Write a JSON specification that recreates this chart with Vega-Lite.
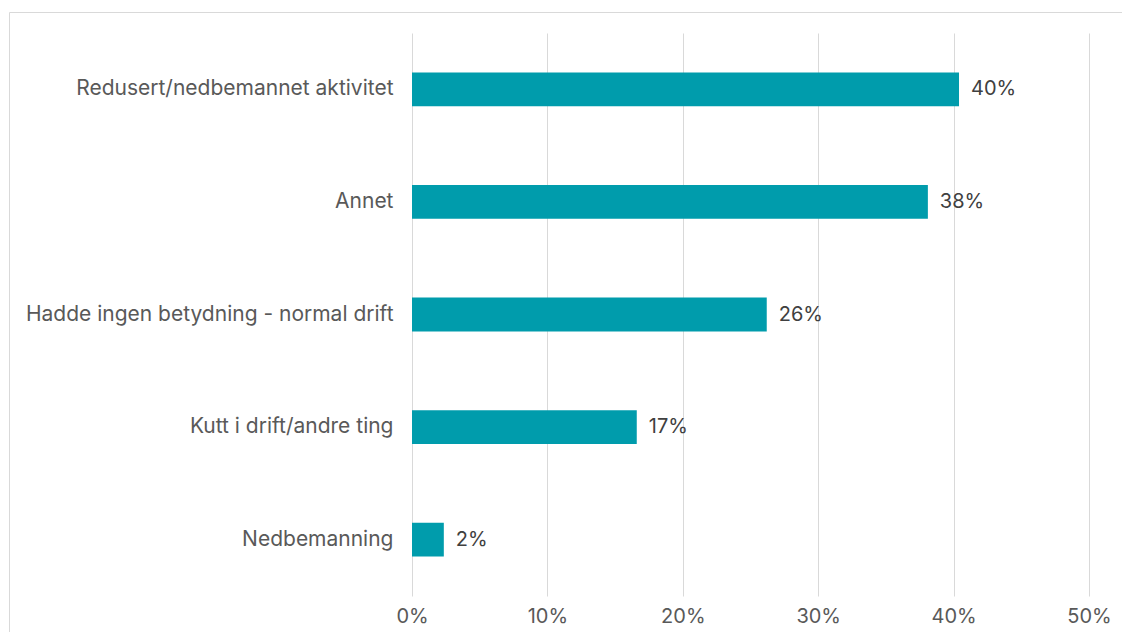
{
  "$schema": "https://vega.github.io/schema/vega-lite/v6.json",
  "autosize": {"type": "none"},
  "padding": {"left": 9, "top": 12, "right": 0, "bottom": 0},
  "width": 1113,
  "height": 621,
  "background": "white",
  "config": {
    "view": {"stroke": "#d9d9d9", "strokeWidth": 1},
    "font": "Inter"
  },
  "data": {
    "values": [
      {"kategori": "Redusert/nedbemannet aktivitet", "andel": 0.404},
      {"kategori": "Annet", "andel": 0.381},
      {"kategori": "Hadde ingen betydning - normal drift", "andel": 0.262},
      {"kategori": "Kutt i drift/andre ting", "andel": 0.166},
      {"kategori": "Nedbemanning", "andel": 0.0235}
    ]
  },
  "encoding": {
    "y": {
      "field": "kategori",
      "type": "nominal",
      "sort": null,
      "scale": {"range": [21, 584], "paddingInner": 0.7, "paddingOuter": 0.35},
      "axis": {
        "title": null,
        "orient": "left",
        "offset": -384,
        "domain": false,
        "ticks": false,
        "grid": false,
        "labelPadding": 0,
        "labelFont": "Inter",
        "labelFontSize": 21,
        "labelColor": "#595959",
        "labelLimit": 500
      }
    },
    "x": {
      "field": "andel",
      "type": "quantitative",
      "scale": {"domain": [0, 0.5], "range": [403, 1080], "nice": false, "zero": true},
      "axis": {
        "title": null,
        "orient": "top",
        "offset": 0,
        "values": [0, 0.1, 0.2, 0.3, 0.4, 0.5],
        "format": ".0%",
        "domain": false,
        "ticks": false,
        "grid": true,
        "gridColor": "#d9d9d9",
        "gridWidth": 1,
        "labelPadding": -610,
        "labelFlush": false,
        "labelFont": "Inter",
        "labelFontSize": 20,
        "labelColor": "#595959",
        "labelBaseline": "alphabetic"
      }
    }
  },
  "layer": [
    {"mark": {"type": "bar", "color": "#009CAC"}},
    {
      "mark": {"type": "text", "align": "left", "baseline": "middle", "dx": 12, "fontSize": 20, "color": "#404040", "font": "Inter"},
      "encoding": {"text": {"field": "andel", "type": "quantitative", "format": ".0%"}}
    }
  ]
}
